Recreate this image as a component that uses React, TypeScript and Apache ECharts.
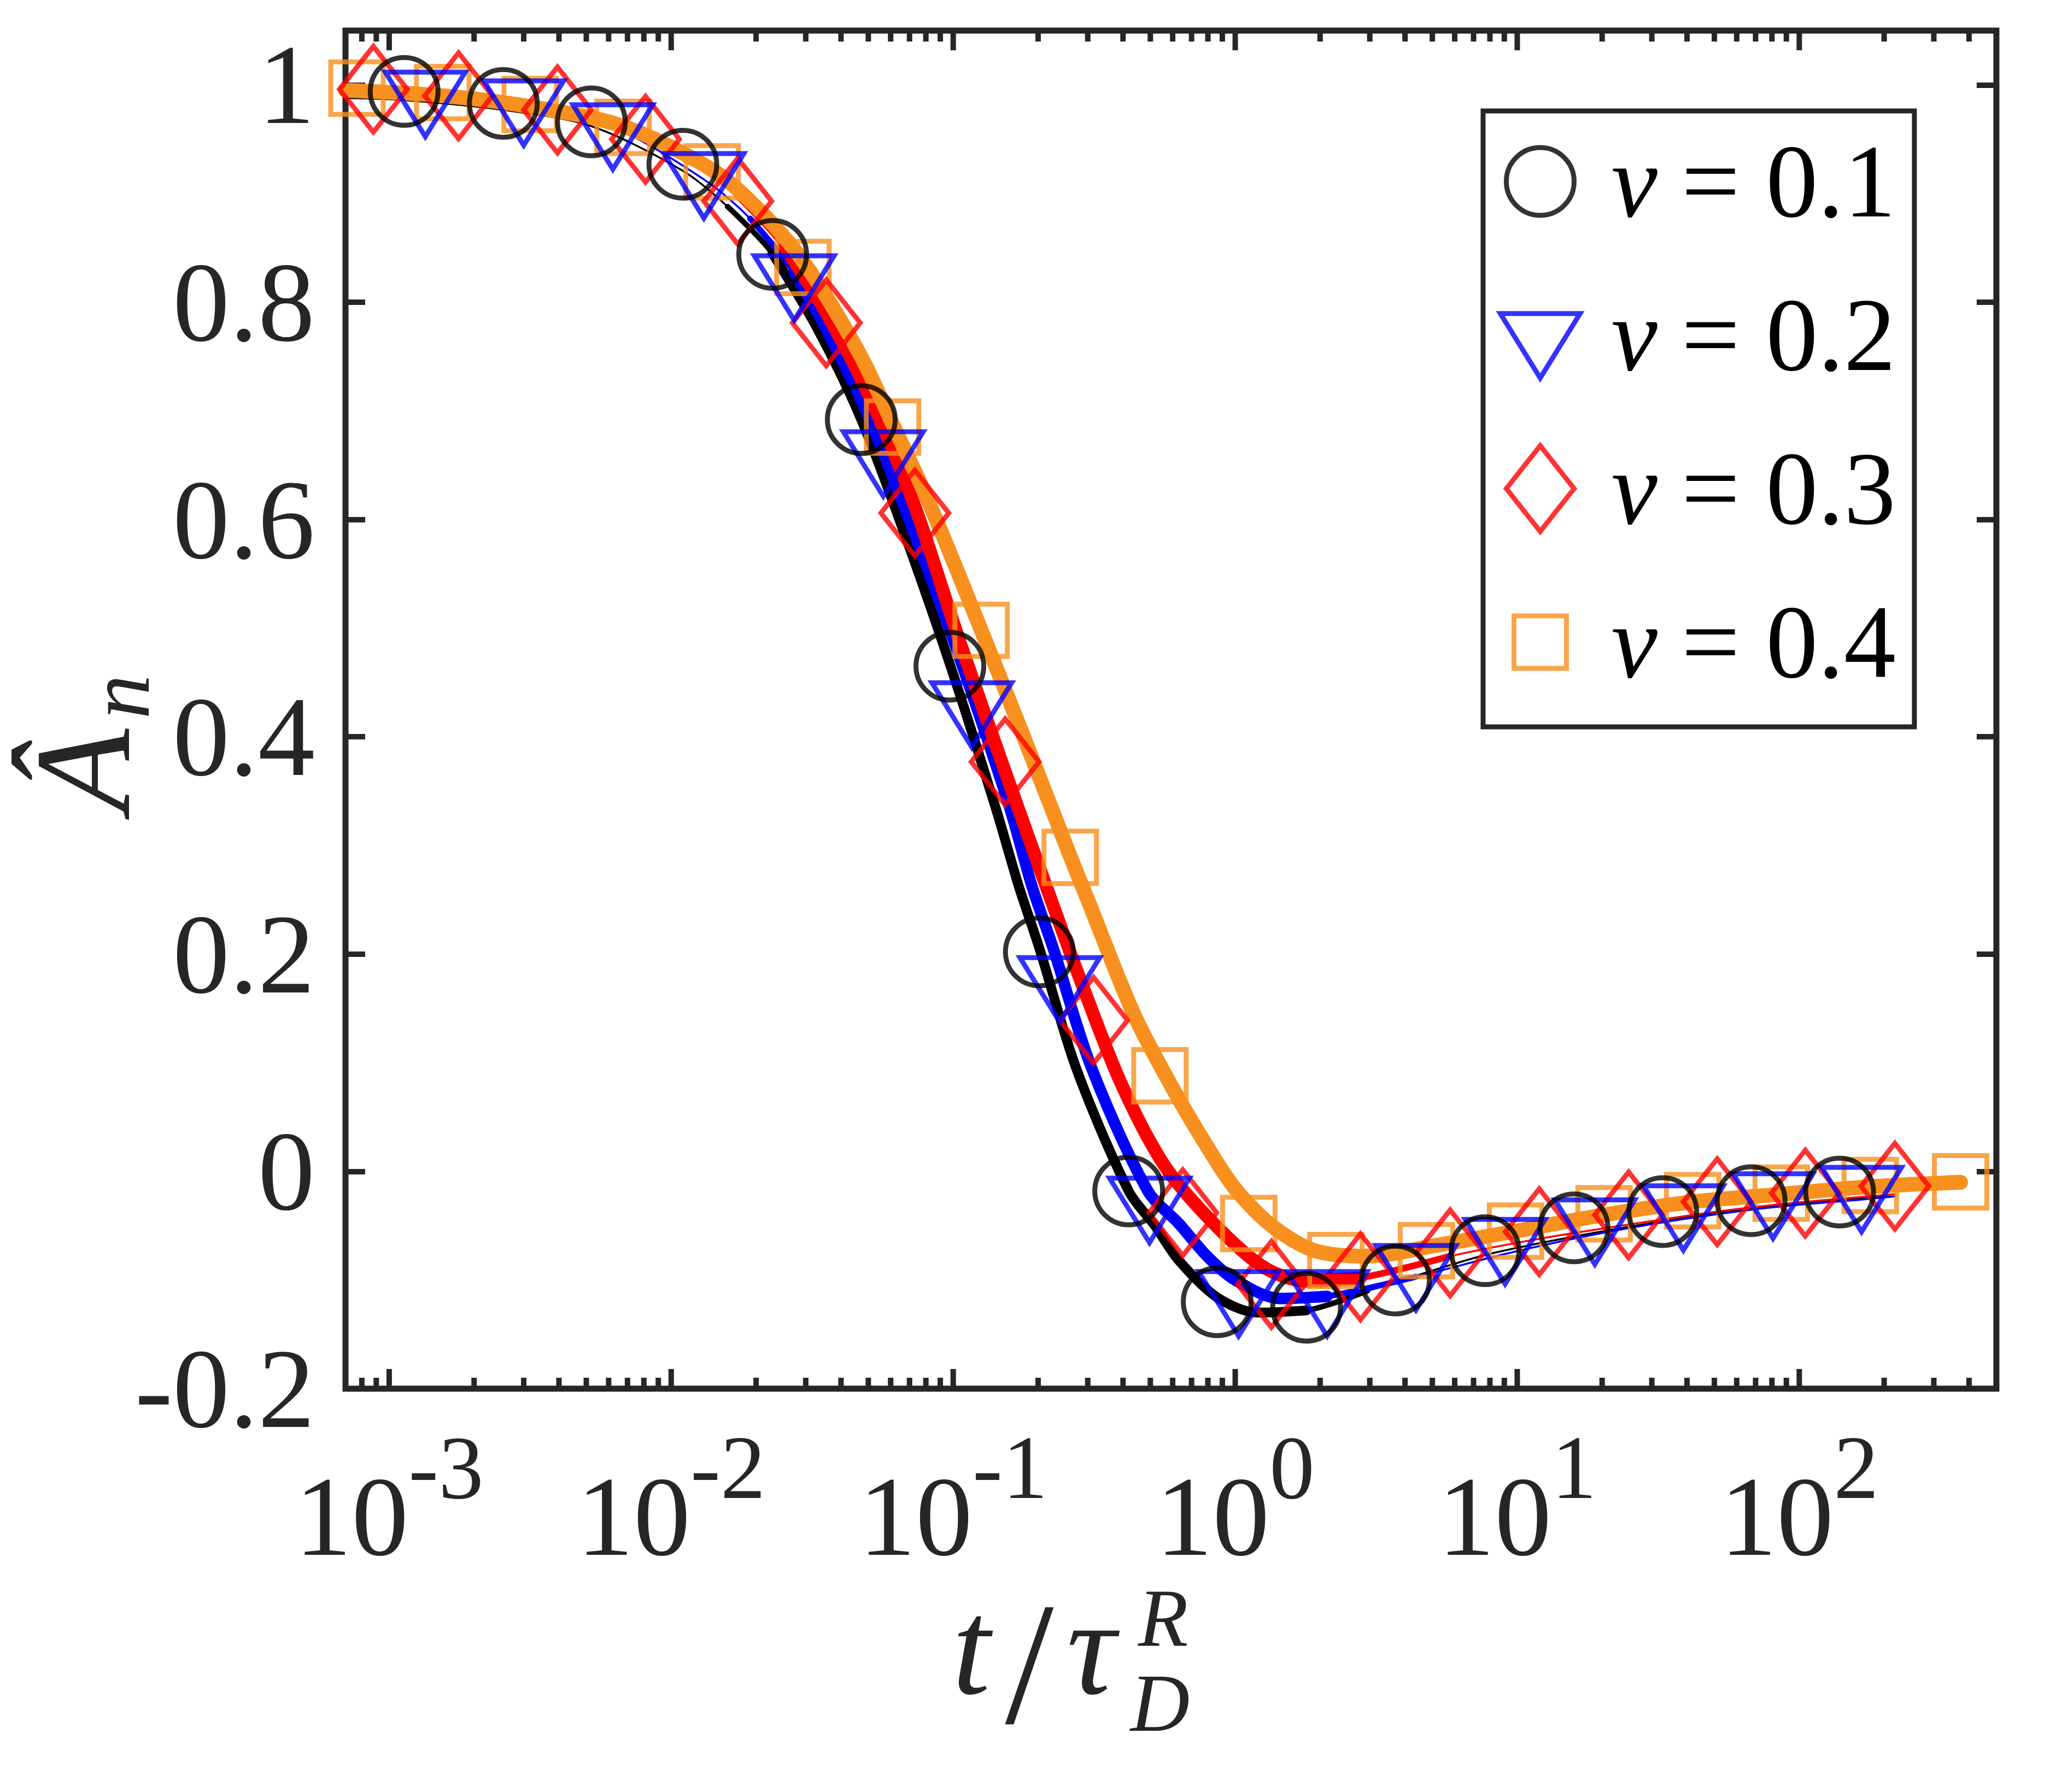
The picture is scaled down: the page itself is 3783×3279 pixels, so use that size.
import React, { useEffect, useRef } from 'react';
import * as echarts from 'echarts';

const W = 3783;
const H = 3279;
const FONT = 'Liberation Serif';
const AXIS = '#262626';

// ---- axis ranges ----
const X_MIN = 7e-4;
const X_MAX = 500;
const Y_MIN = -0.2;
const Y_MAX = 1.05;
const Y_STEP = 0.2;
const X_DECADES = [-4, -3, -2, -1, 0, 1, 2];
const X_MANTISSAS = [1, 2, 3, 4, 5, 6, 7, 8, 9];

// ---- legend names ----
const NAMES = ['ν = 0.1', 'ν = 0.2', 'ν = 0.3', 'ν = 0.4'];
const COLORS = ['#000000', '#0000FF', '#FF0000', '#F7901E'];

// ---- markers (t/τ_D^R , Â_n) ----
const circleT = [1.13e-3, 2.54e-3, 5.21e-3, 0.011, 0.0229, 0.0472, 0.0973, 0.202, 0.419, 0.863, 1.79, 3.7, 7.69, 15.9, 32.8, 67.5, 139];
const circleV = [0.994, 0.983, 0.966, 0.927, 0.844, 0.692, 0.465, 0.202, -0.018, -0.12, -0.125, -0.1, -0.073, -0.052, -0.037, -0.027, -0.019];

const triT = [1.343e-3, 3.0e-3, 6.21e-3, 0.01306, 0.0273, 0.0565, 0.1164, 0.2388, 0.4966, 1.028, 2.118, 4.375, 9.057, 18.84, 38.82, 80.72, 166.3];
const triV = [0.992, 0.984, 0.962, 0.917, 0.823, 0.661, 0.43, 0.177, -0.026, -0.112, -0.112, -0.088, -0.064, -0.046, -0.033, -0.022, -0.016];

const diaT = [8.79e-4, 1.762e-3, 3.95e-3, 8.11e-3, 0.01722, 0.03548, 0.0731, 0.1528, 0.3148, 0.6516, 1.343, 2.78, 5.781, 11.97, 24.83, 51.17, 105.0, 218.3];
const diaV = [0.996, 0.99, 0.977, 0.95, 0.893, 0.781, 0.606, 0.377, 0.139, -0.038, -0.104, -0.097, -0.075, -0.0555, -0.04, -0.028, -0.02, -0.0136];

const sqT = [7.69e-4, 1.549e-3, 3.162e-3, 6.75e-3, 0.01396, 0.02931, 0.06095, 0.1256, 0.26, 0.5408, 1.117, 2.275, 4.764, 9.863, 20.32, 41.88, 86.3, 178.6, 373.3];
const sqV = [0.997, 0.993, 0.982, 0.961, 0.92, 0.832, 0.685, 0.498, 0.289, 0.088, -0.048, -0.082, -0.073, -0.055, -0.039, -0.027, -0.02, -0.013, -0.0096];

// ---- curves ----
const blackT = [7.0e-4, 1.132e-3, 2.541e-3, 5.21e-3, 0.01099, 0.01585, 0.02286, 0.03311, 0.04721, 0.06761, 0.09727, 0.1413, 0.171, 0.2023, 0.2729, 0.4188, 0.5188, 0.631, 0.863, 1.202, 1.786, 2.944, 3.698, 7.691, 15.92, 32.81, 67.45, 139.0, 218.8];
const blackV = [0.988, 0.986, 0.977, 0.962, 0.921, 0.888, 0.845, 0.775, 0.692, 0.585, 0.467, 0.335, 0.262, 0.205, 0.095, -0.018, -0.05, -0.082, -0.116, -0.13, -0.128, -0.11, -0.102, -0.077, -0.06, -0.046, -0.034, -0.026, -0.023];

const blueT = [7.0e-4, 1.343e-3, 3.0e-3, 6.21e-3, 0.01306, 0.01905, 0.02729, 0.03548, 0.05058, 0.07328, 0.1072, 0.1585, 0.1905, 0.2265, 0.3097, 0.4898, 0.631, 0.7943, 1.0, 1.442, 2.118, 4.375, 9.057, 18.84, 38.82, 80.72, 166.3, 218.8];
const blueV = [0.99, 0.987, 0.978, 0.961, 0.913, 0.877, 0.828, 0.775, 0.692, 0.585, 0.467, 0.335, 0.262, 0.205, 0.095, -0.018, -0.048, -0.078, -0.1, -0.117, -0.115, -0.097, -0.076, -0.058, -0.044, -0.033, -0.026, -0.023];

const redT = [7.0e-4, 1.762e-3, 3.954e-3, 8.11e-3, 0.01722, 0.02512, 0.03548, 0.05012, 0.07311, 0.1047, 0.1528, 0.2223, 0.2884, 0.3954, 0.5623, 0.8395, 1.259, 1.786, 2.78, 5.781, 11.97, 24.83, 51.17, 105.0, 218.3];
const redV = [0.99, 0.984, 0.972, 0.95, 0.898, 0.852, 0.79, 0.715, 0.612, 0.49, 0.368, 0.25, 0.17, 0.08, 0.005, -0.048, -0.088, -0.101, -0.098, -0.078, -0.062, -0.049, -0.037, -0.028, -0.021];

const orangeT = [7.0e-4, 1.549e-3, 3.162e-3, 6.75e-3, 0.01396, 0.01995, 0.02931, 0.04645, 0.06095, 0.08222, 0.1222, 0.1778, 0.26, 0.2999, 0.4365, 0.5957, 0.7943, 1.0, 1.361, 1.919, 2.944, 5.188, 9.863, 20.32, 41.88, 86.3, 178.6, 373.3];
const orangeV = [0.995, 0.99, 0.98, 0.962, 0.922, 0.888, 0.838, 0.753, 0.688, 0.615, 0.506, 0.4, 0.29, 0.25, 0.145, 0.078, 0.023, -0.016, -0.051, -0.073, -0.078, -0.068, -0.055, -0.04, -0.028, -0.021, -0.014, -0.01];

// ranges (in t) where the black / blue / red curves are drawn thicker
const BLACK_MED = [0.0158, 2.95];
const BLACK_THICK = [0.0228, 1.79];
const BLUE_MED = [0.019, 4.4];
const BLUE_THICK = [0.0272, 2.12];
const RED_MED = [0.0172, 5.8];
const RED_THICK = [0.025, 2.78];

// ---- marker shapes (common 174 box, centred at 87,87) ----
const BOX = 'M0,0 M174,174 ';
const SYM_CIRCLE = 'path://' + BOX + 'M25,87 A62,62 0 1,1 149,87 A62,62 0 1,1 25,87 Z';
const SYM_TRI = 'path://' + BOX + 'M14,47.7 L160,47.7 L87,165.7 Z';
const SYM_DIA = 'path://' + BOX + 'M87,8.5 L149,87 L87,165.5 L25,87 Z';
const SYM_SQ = 'path://' + BOX + 'M39,39 L135,39 L135,135 L39,135 Z';
const SYM_SIZE = 174;

function pairs(ts: number[], vs: number[], range?: number[]) {
  const out: number[][] = [];
  ts.forEach((t, i) => {
    if (!range || (t >= range[0] * 0.999 && t <= range[1] * 1.001)) out.push([t, vs[i]]);
  });
  return out;
}

function line(name: string, data: number[][], color: string, width: number) {
  return {
    type: 'line',
    name,
    data,
    symbol: 'none',
    showSymbol: false,
    smooth: 0.3,
    silent: true,
    lineStyle: { color, width, cap: 'round', join: 'round' },
    z: 2,
  };
}

function scatter(name: string, ts: number[], vs: number[], symbol: string, color: string) {
  return {
    type: 'scatter',
    name,
    data: pairs(ts, vs),
    symbol,
    symbolSize: SYM_SIZE,
    silent: true,
    itemStyle: { color: 'rgba(0,0,0,0)', borderColor: color, borderWidth: 9, borderJoin: 'miter', borderMiterLimit: 10 },
    z: 3,
  };
}

const xTicks: number[][] = [];
X_DECADES.forEach((k) => {
  X_MANTISSAS.forEach((m) => {
    const t = m * Math.pow(10, k);
    if (t >= X_MIN && t <= X_MAX) xTicks.push([t, 0, m === 1 ? 1 : 0]);
  });
});

function xLabel(v: number) {
  const e = Math.log10(v);
  const r = Math.round(e);
  if (Math.abs(e - r) > 1e-6) return '';
  return `{b|10}{s|${r}}`;
}

function yLabel(v: number) {
  const r = Math.round(v * 10) / 10;
  if (Math.abs(v - r) > 1e-6) return '';
  if (Math.abs(r * 5 - Math.round(r * 5)) > 1e-6) return '';
  return String(r);
}

function titleText(x: number, y: number, text: string, size: number, italic: boolean, align: string, rotation = 0) {
  return {
    type: 'text',
    x,
    y,
    rotation,
    z: 100,
    silent: true,
    style: {
      text,
      fontSize: size,
      fontFamily: FONT,
      fontStyle: italic ? 'italic' : 'normal',
      fill: AXIS,
      textAlign: align,
      textVerticalAlign: 'middle',
    },
  };
}

const yTick = { show: true, inside: true, length: 36, lineStyle: { color: AXIS, width: 10 } };

const option = {
  animation: false,
  backgroundColor: '#ffffff',
  textStyle: { fontFamily: FONT },
  grid: {
    left: 632,
    top: 56,
    width: 3020,
    height: 2485,
    show: true,
    borderColor: AXIS,
    borderWidth: 11,
    backgroundColor: 'rgba(0,0,0,0)',
    containLabel: false,
  },
  xAxis: [
    {
      type: 'log',
      logBase: 10,
      min: X_MIN,
      max: X_MAX,
      position: 'bottom',
      axisLine: { show: false },
      axisTick: { show: false },
      splitLine: { show: false },
      minorTick: { show: false },
      axisLabel: {
        margin: 62,
        color: AXIS,
        fontFamily: FONT,
        formatter: xLabel,
        rich: {
          b: { fontSize: 208, lineHeight: 276, fontFamily: FONT, color: AXIS, verticalAlign: 'bottom' },
          s: { fontSize: 165, lineHeight: 165, fontFamily: FONT, color: AXIS, verticalAlign: 'top' },
        },
      },
    },
  ],
  yAxis: [
    {
      type: 'value',
      min: Y_MIN,
      max: Y_MAX,
      interval: Y_STEP,
      position: 'left',
      axisLine: { show: false },
      axisTick: yTick,
      splitLine: { show: false },
      axisLabel: { margin: 56, fontSize: 208, fontFamily: FONT, color: AXIS, formatter: yLabel },
    },
    {
      type: 'value',
      min: Y_MIN,
      max: Y_MAX,
      interval: Y_STEP,
      position: 'right',
      axisLine: { show: false },
      axisTick: yTick,
      splitLine: { show: false },
      axisLabel: { show: false },
    },
  ],
  legend: {
    data: NAMES,
    orient: 'vertical',
    left: 2713,
    top: 203,
    padding: [34, 34, 60, 13],
    itemWidth: SYM_SIZE,
    itemHeight: SYM_SIZE,
    itemGap: 91,
    selectedMode: false,
    backgroundColor: '#ffffff',
    borderColor: AXIS,
    borderWidth: 9,
    itemStyle: { borderWidth: 9, borderJoin: 'miter' },
    formatter: (name: string) => `{nu|ν}{t|${name.slice(2)}}`,
    textStyle: {
      fontFamily: FONT,
      fontSize: 190,
      color: '#000000',
      lineHeight: SYM_SIZE,
      rich: {
        nu: { fontFamily: FONT, fontSize: 190, fontStyle: 'italic', color: '#000000', lineHeight: SYM_SIZE, padding: [0, 0, 0, 38] },
        t: { fontFamily: FONT, fontSize: 190, color: '#000000', lineHeight: SYM_SIZE, padding: [0, 0, 0, 44] },
      },
    },
  },
  graphic: {
    elements: [
      titleText(151, 1410, 'Â', 250, true, 'center', Math.PI / 2),
      titleText(217, 1275, 'n', 162, true, 'center', Math.PI / 2),
      titleText(1742, 3014, 't', 250, true, 'left'),
      titleText(1883, 3044, '/', 320, false, 'center'),
      titleText(1996, 3014, 'τ', 250, true, 'center'),
      titleText(2082, 2960, 'R', 150, true, 'left'),
      titleText(2068, 3116, 'D', 150, true, 'left'),
    ],
  },
  series: [
    {
      type: 'custom',
      name: 'xticks',
      coordinateSystem: 'cartesian2d',
      data: xTicks,
      encode: { x: 0, y: 1 },
      silent: true,
      z: 1,
      renderItem: (params: any, api: any) => {
        const cs = params.coordSys;
        const px = api.coord([api.value(0), 0])[0];
        const len = api.value(2) ? 36 : 20;
        const top = cs.y;
        const bot = cs.y + cs.height;
        const st = { stroke: AXIS, lineWidth: 10 };
        return {
          type: 'group',
          children: [
            { type: 'line', shape: { x1: px, y1: bot, x2: px, y2: bot - len }, style: st },
            { type: 'line', shape: { x1: px, y1: top, x2: px, y2: top + len }, style: st },
          ],
        };
      },
    },
    line('curve 0.1', pairs(blackT, blackV), COLORS[0], 3.5),
    line('curve 0.1 m', pairs(blackT, blackV, BLACK_MED), COLORS[0], 10),
    line('curve 0.1 t', pairs(blackT, blackV, BLACK_THICK), COLORS[0], 18),
    line('curve 0.2', pairs(blueT, blueV), COLORS[1], 3.5),
    line('curve 0.2 m', pairs(blueT, blueV, BLUE_MED), COLORS[1], 11),
    line('curve 0.2 t', pairs(blueT, blueV, BLUE_THICK), COLORS[1], 21),
    line('curve 0.3', pairs(redT, redV), COLORS[2], 3.5),
    line('curve 0.3 m', pairs(redT, redV, RED_MED), COLORS[2], 12),
    line('curve 0.3 t', pairs(redT, redV, RED_THICK), COLORS[2], 24),
    line('curve 0.4', pairs(orangeT, orangeV), COLORS[3], 27),
    scatter(NAMES[3], sqT, sqV, SYM_SQ, COLORS[3]),
    scatter(NAMES[2], diaT, diaV, SYM_DIA, COLORS[2]),
    scatter(NAMES[1], triT, triV, SYM_TRI, COLORS[1]),
    scatter(NAMES[0], circleT, circleV, SYM_CIRCLE, COLORS[0]),
  ],
};

export default function App() {
  const ref = useRef<HTMLDivElement>(null);
  useEffect(() => {
    document.body.style.margin = '0';
    const chart = echarts.init(ref.current as HTMLDivElement, null, { renderer: 'svg', width: W, height: H });
    chart.setOption(option as any);
    return () => chart.dispose();
  }, []);
  return <div ref={ref} style={{ width: W, height: H }} />;
}
